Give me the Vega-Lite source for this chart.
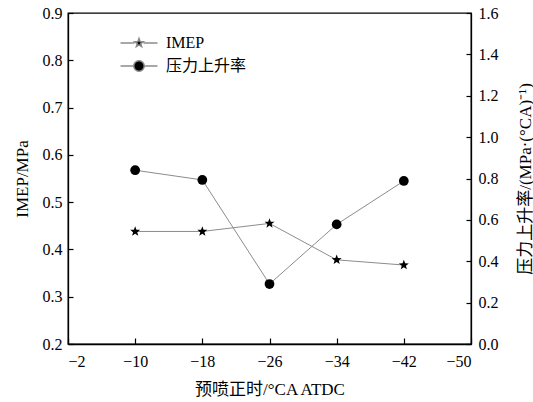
{
  "$schema": "https://vega.github.io/schema/vega-lite/v6.json",
  "width": 403,
  "height": 331,
  "autosize": "none",
  "padding": {"left": 68, "top": 13, "right": 62, "bottom": 58},
  "background": "white",
  "data": {
    "values": [
      {"t": -10, "series": "IMEP", "v": 0.438},
      {"t": -18, "series": "IMEP", "v": 0.438},
      {"t": -26, "series": "IMEP", "v": 0.455},
      {"t": -34, "series": "IMEP", "v": 0.378},
      {"t": -42, "series": "IMEP", "v": 0.367},
      {"t": -10, "series": "压力上升率", "v": 0.84},
      {"t": -18, "series": "压力上升率", "v": 0.793},
      {"t": -26, "series": "压力上升率", "v": 0.29},
      {"t": -34, "series": "压力上升率", "v": 0.578},
      {"t": -42, "series": "压力上升率", "v": 0.788}
    ]
  },
  "config": {
    "font": "Liberation Serif",
    "view": {"stroke": "black", "strokeWidth": 1.3},
    "axis": {
      "grid": false,
      "domainColor": "black",
      "domainWidth": 1.3,
      "tickColor": "black",
      "tickWidth": 1.2,
      "labelFont": "Liberation Serif",
      "labelFontSize": 16,
      "labelColor": "black",
      "titleFont": "Liberation Serif, Noto Sans CJK SC",
      "titleFontSize": 17,
      "titleFontWeight": "normal",
      "titleColor": "black"
    },
    "legend": {
      "labelFont": "Liberation Serif, Noto Sans CJK SC",
      "labelFontSize": 16,
      "labelColor": "black"
    }
  },
  "encoding": {
    "x": {
      "field": "t",
      "type": "quantitative",
      "scale": {"domain": [-50, -2], "reverse": true, "nice": false},
      "axis": {
        "values": [-2, -10, -18, -26, -34, -42, -50],
        "format": "d",
        "tickSize": -6,
        "labelPadding": 15,
        "title": "预喷正时/°CA ATDC",
        "titlePadding": 12
      }
    }
  },
  "layer": [
    {
      "transform": [{"filter": "datum.series === 'IMEP'"}],
      "encoding": {
        "y": {
          "field": "v",
          "type": "quantitative",
          "scale": {"domain": [0.2, 0.9], "nice": false, "zero": false},
          "axis": {
            "values": [0.2, 0.3, 0.4, 0.5, 0.6, 0.7, 0.8, 0.9],
            "format": ".1f",
            "tickSize": -5,
            "labelPadding": 11,
            "title": "IMEP/MPa",
            "titlePadding": 11
          }
        }
      },
      "layer": [
        {"mark": {"type": "line", "color": "#8c8c8c", "strokeWidth": 1}},
        {
          "mark": {
            "type": "point", "filled": true, "color": "black", "opacity": 1, "size": 110,
            "shape": "M0,-1L0.247,-0.34L0.951,-0.309L0.399,0.13L0.588,0.809L0,0.42L-0.588,0.809L-0.399,0.13L-0.951,-0.309L-0.247,-0.34Z"
          }
        }
      ]
    },
    {
      "transform": [{"filter": "datum.series === '压力上升率'"}],
      "encoding": {
        "y": {
          "field": "v",
          "type": "quantitative",
          "scale": {"domain": [0, 1.6], "nice": false},
          "axis": {
            "orient": "right",
            "values": [0, 0.2, 0.4, 0.6, 0.8, 1.0, 1.2, 1.4, 1.6],
            "format": ".1f",
            "tickSize": -5,
            "labelPadding": 12,
            "title": "压力上升率/(MPa·(°CA)⁻¹)",
            "titleAngle": 270,
            "titleBaseline": "top",
            "titlePadding": 19
          }
        }
      },
      "layer": [
        {"mark": {"type": "line", "color": "#8c8c8c", "strokeWidth": 1}},
        {"mark": {"type": "point", "filled": true, "color": "black", "opacity": 1, "size": 95, "shape": "circle"}}
      ]
    },
    {
      "transform": [{"filter": "false"}],
      "mark": {"type": "point", "filled": true, "fill": "black", "stroke": "#8c8c8c", "strokeWidth": 0.8, "opacity": 1},
      "encoding": {
        "shape": {
          "field": "series",
          "type": "nominal",
          "scale": {
            "domain": ["IMEP", "压力上升率"],
            "range": [
              "M-3.7,0L-0.9,0M0.9,0L3.7,0M0,-0.9L0.222,-0.306L0.856,-0.278L0.359,0.117L0.529,0.728L0,0.378L-0.529,0.728L-0.359,0.117L-0.856,-0.278L-0.222,-0.306Z",
              "M-3.7,0L-1.05,0M1.05,0L3.7,0M-1.05,0A1.05,1.05,0,1,0,1.05,0A1.05,1.05,0,1,0,-1.05,0Z"
            ]
          },
          "legend": {
            "title": null,
            "orient": "none",
            "legendX": 63,
            "legendY": 22,
            "padding": 0,
            "symbolSize": 100,
            "symbolOpacity": 1,
            "labelOffset": 19,
            "rowPadding": 6
          }
        }
      }
    }
  ],
  "resolve": {"scale": {"y": "independent"}}
}
